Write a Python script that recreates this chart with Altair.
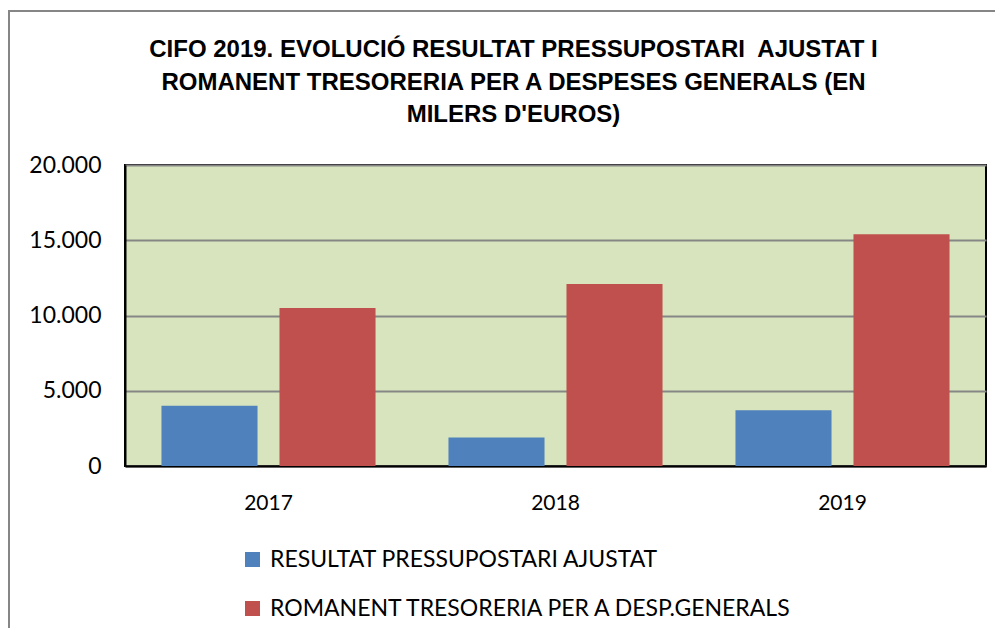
import altair as alt
import pandas as pd

years = ["2017", "2018", "2019"]
series = ["RESULTAT PRESSUPOSTARI AJUSTAT", "ROMANENT TRESORERIA PER A DESP.GENERALS"]
resultat = [4000, 1900, 3700]
romanent = [10500, 12100, 15400]
colors = ["#4F81BD", "#C0504D"]
title_lines = [
    "CIFO 2019. EVOLUCIÓ RESULTAT PRESSUPOSTARI\u00a0 AJUSTAT I",
    "ROMANENT TRESORERIA PER A DESPESES GENERALS (EN",
    "MILERS D'EUROS)",
]

rows = []
for i, y in enumerate(years):
    rows.append({"year": y, "serie": series[0], "value": resultat[i]})
    rows.append({"year": y, "serie": series[1], "value": romanent[i]})
df = pd.DataFrame(rows)

bars = alt.Chart(df).mark_bar(stroke=None).encode(
    x=alt.X("year:N", title=None, sort=years,
            scale=alt.Scale(paddingInner=0, paddingOuter=0),
            axis=alt.Axis(labelAngle=0, labelFontSize=21, labelFont="Lato",
                          labelColor="#000", labelPadding=26, ticks=False,
                          domain=True, domainColor="#000", domainWidth=2)),
    xOffset=alt.XOffset("serie:N", sort=series,
                        scale=alt.Scale(paddingInner=0.186, paddingOuter=0.309)),
    y=alt.Y("value:Q", title=None,
            scale=alt.Scale(domain=[0, 20000], nice=False),
            axis=alt.Axis(values=[0, 5000, 10000, 15000, 20000],
                          labelExpr="replace(format(datum.value, ','), ',', '.')",
                          labelFontSize=23, labelFont="Lato", labelColor="#000",
                          labelPadding=24, ticks=False, domain=True,
                          domainColor="#000", domainWidth=2,
                          grid=True, gridColor="#868686", gridWidth=2)),
    color=alt.Color("serie:N", sort=series,
                    scale=alt.Scale(domain=series, range=colors),
                    legend=alt.Legend(title=None, orient="none", legendX=116,
                                      legendY=383, direction="vertical",
                                      symbolType="square", symbolSize=225,
                                      symbolStrokeWidth=0,
                                      labelFontSize=23, labelFont="Lato",
                                      labelColor="#000", rowPadding=25,
                                      labelOffset=6, labelLimit=0)),
)

one = pd.DataFrame({"a": [0]})
frame_top = alt.Chart(one).mark_rule(color="#868686", strokeWidth=2, clip=False).encode(
    x=alt.value(-117), x2=alt.value(880), y=alt.value(-154),
)
frame_left = alt.Chart(one).mark_rule(color="#868686", strokeWidth=2, clip=False).encode(
    x=alt.value(-116), y=alt.value(-155), y2=alt.value(480),
)

chart = alt.layer(frame_top, frame_left, bars).properties(
    width=861, height=301,
    autosize=alt.AutoSizeParams(type="none"),
    padding={"left": 117, "top": 157, "right": 9, "bottom": 162},
    title=alt.TitleParams(text=title_lines, anchor="middle", frame="group",
                          font="Liberation Sans", fontSize=24,
                          fontWeight="bold", baseline="bottom",
                          color="#000", lineHeight=32.5, offset=-142, dx=-42),
).configure_view(
    fill="#D7E4BD", stroke="#000", strokeWidth=2
)

chart.save("out.html", embed_options={"renderer": "svg", "actions": False})
